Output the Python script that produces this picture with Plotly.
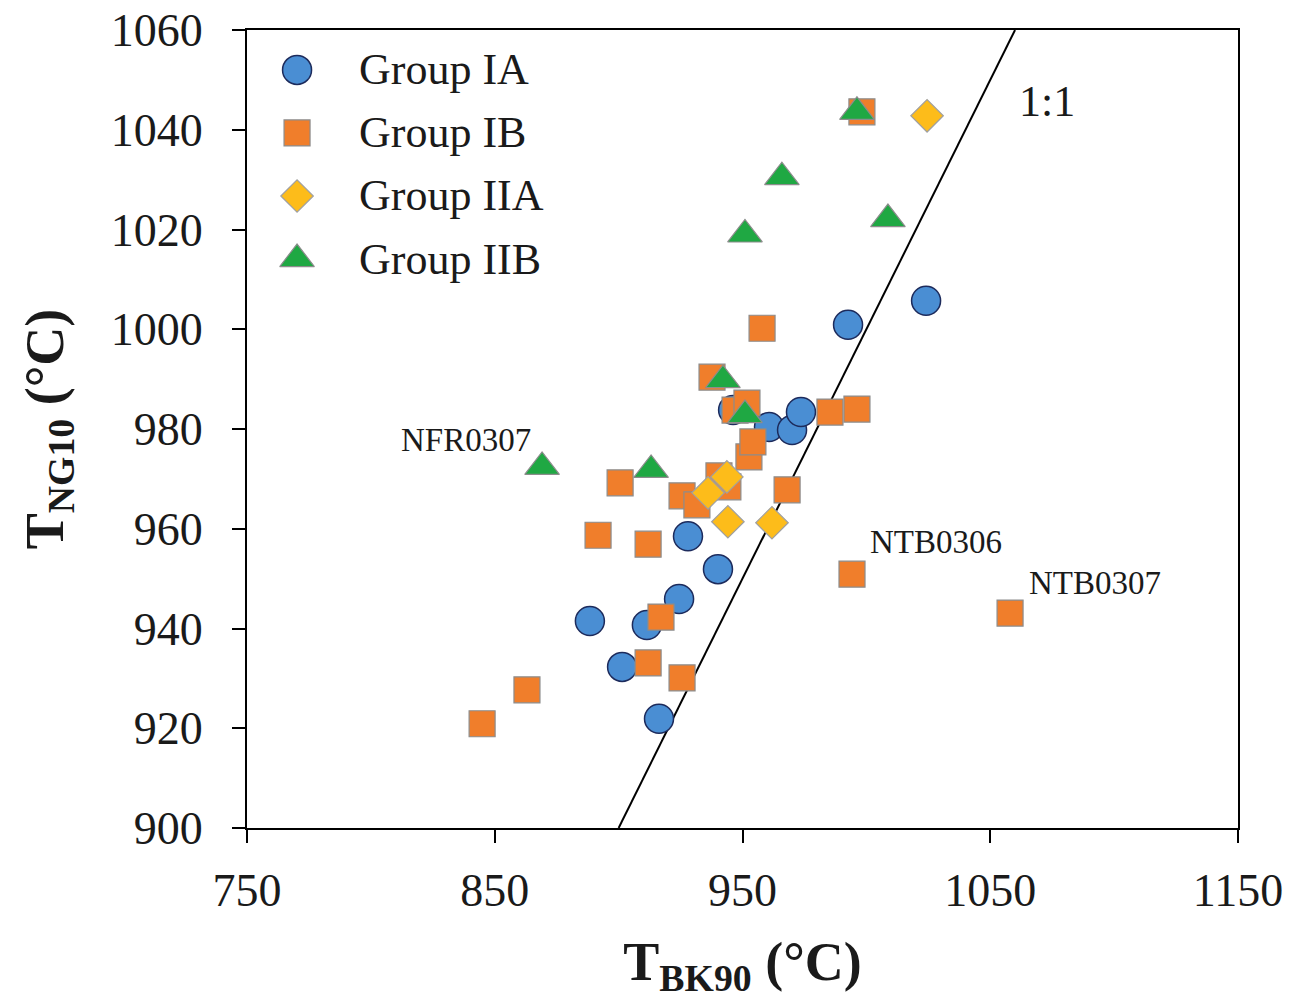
import plotly.graph_objects as go

# ---------------- data ----------------
ia_x = [888.4, 901.4, 911.4, 916.3, 924.4, 928.0, 940.1, 946.2, 960.7, 970.0, 973.6, 992.6, 1024.1]
ia_y = [941.5, 932.3, 940.7, 921.9, 945.9, 958.5, 951.9, 983.8, 980.4, 979.8, 983.4, 1000.9, 1005.7]

ib_x = [844.9, 863.0, 891.7, 900.6, 911.9, 911.9, 917.1, 925.6, 925.6, 931.6, 937.7, 940.5,
        944.1, 947.0, 951.8, 952.6, 954.2, 957.9, 968.0, 985.3, 996.2, 994.2, 998.2, 1058.0]
ib_y = [920.9, 927.7, 958.7, 969.2, 956.9, 933.1, 942.3, 930.1, 966.6, 964.8, 990.4, 970.6,
        968.4, 983.8, 985.2, 974.4, 977.4, 1000.2, 967.8, 983.4, 984.0, 950.9, 1043.6, 943.1]

iia_x = [936.1, 943.7, 944.1, 961.9, 1024.5]
iia_y = [967.2, 970.4, 961.4, 961.2, 1042.8]

iib_x = [869.1, 913.1, 942.1, 951.0, 951.0, 965.9, 996.2, 1008.7]
iib_y = [972.4, 971.8, 989.8, 982.8, 1019.0, 1030.5, 1043.6, 1022.1]

one_to_one = [900, 1060]

x_ticks = [750, 850, 950, 1050, 1150]
y_ticks = [900, 920, 940, 960, 980, 1000, 1020, 1040, 1060]

groups = ["Group IA", "Group IB", "Group IIA", "Group IIB"]
sample_labels = ["NFR0307", "NTB0306", "NTB0307"]

# ---------------- styles ----------------
FONT = "Liberation Serif, Times New Roman, serif"
styles = [
    dict(symbol="circle", size=29, color="#4a8ed3", line=dict(color="#1d2b5c", width=1.5)),
    dict(symbol="square", size=26, color="#f07e2b", line=dict(color="#8c8c8c", width=1.2)),
    dict(symbol="diamond", size=25, color="#fdbc1a", line=dict(color="#a0a0a0", width=1.2)),
    dict(symbol="triangle-up", size=30, color="#1fa843", line=dict(color="#8c8c8c", width=1.2)),
]
series = [(ia_x, ia_y), (ib_x, ib_y), (iia_x, iia_y), (iib_x, iib_y)]

fig = go.Figure()

# 1:1 line
fig.add_trace(go.Scatter(x=one_to_one, y=one_to_one, mode="lines",
                         line=dict(color="black", width=2), showlegend=False,
                         hoverinfo="skip"))

for name, (xs, ys), st in zip(groups, series, styles):
    fig.add_trace(go.Scatter(x=xs, y=ys, mode="markers", name=name,
                             marker=st, showlegend=False))

# manual legend (large keys) on an overlay axis spanning the plot area
LEG_X = 0.0505
LEG_TX = 0.111
LEG_Y0 = 0.950
LEG_DY = 0.079
for i, (name, st) in enumerate(zip(groups, styles)):
    yy = LEG_Y0 - i * LEG_DY
    fig.add_trace(go.Scatter(x=[LEG_X], y=[yy], mode="markers", marker=st,
                             xaxis="x2", yaxis="y2", showlegend=False,
                             hoverinfo="skip"))
    fig.add_annotation(x=LEG_TX, y=yy, xref="x2", yref="y2", text=name,
                       showarrow=False, xanchor="left", yanchor="middle",
                       font=dict(family=FONT, size=44, color="#1a1a1a"))

# sample labels
label_pos = [(865.4, 977.8, "right"), (1000.7, 957.3, "left"), (1064.8, 949.1, "left")]
for txt, (lx, ly, anc) in zip(sample_labels, label_pos):
    fig.add_annotation(x=lx, y=ly, text=txt, showarrow=False, xanchor=anc,
                       yanchor="middle", font=dict(family=FONT, size=33, color="#1a1a1a"))

fig.add_annotation(x=1060.8, y=1045.6, text="1:1", showarrow=False, xanchor="left",
                   yanchor="middle", font=dict(family=FONT, size=44, color="#1a1a1a"))

axis_common = dict(
    showline=True, linecolor="black", linewidth=2, mirror=True,
    ticks="outside", ticklen=13, tickwidth=2, tickcolor="black",
    showgrid=False, zeroline=False, automargin=False,
    tickfont=dict(family=FONT, size=46, color="#1a1a1a"),
)

fig.update_layout(
    width=1299, height=1001,
    margin=dict(l=247, r=61, t=30, b=173, autoexpand=False),
    paper_bgcolor="white", plot_bgcolor="white",
    showlegend=False,
    xaxis=dict(range=[750, 1150], tickvals=x_ticks, ticklabelstandoff=8,
               title=dict(text="<b>T<sub>BK90</sub> (°C)</b>", standoff=27,
                          font=dict(family=FONT, size=54, color="#1a1a1a")),
               **axis_common),
    yaxis=dict(range=[900, 1060], tickvals=y_ticks, ticklabelstandoff=20,
               title=dict(text="<b>T<sub>NG10</sub> (°C)</b>", standoff=30,
                          font=dict(family=FONT, size=54, color="#1a1a1a")),
               **axis_common),
    xaxis2=dict(range=[0, 1], overlaying="x", visible=False, fixedrange=True),
    yaxis2=dict(range=[0, 1], overlaying="y", visible=False, fixedrange=True),
)

fig.write_html("out.html")
